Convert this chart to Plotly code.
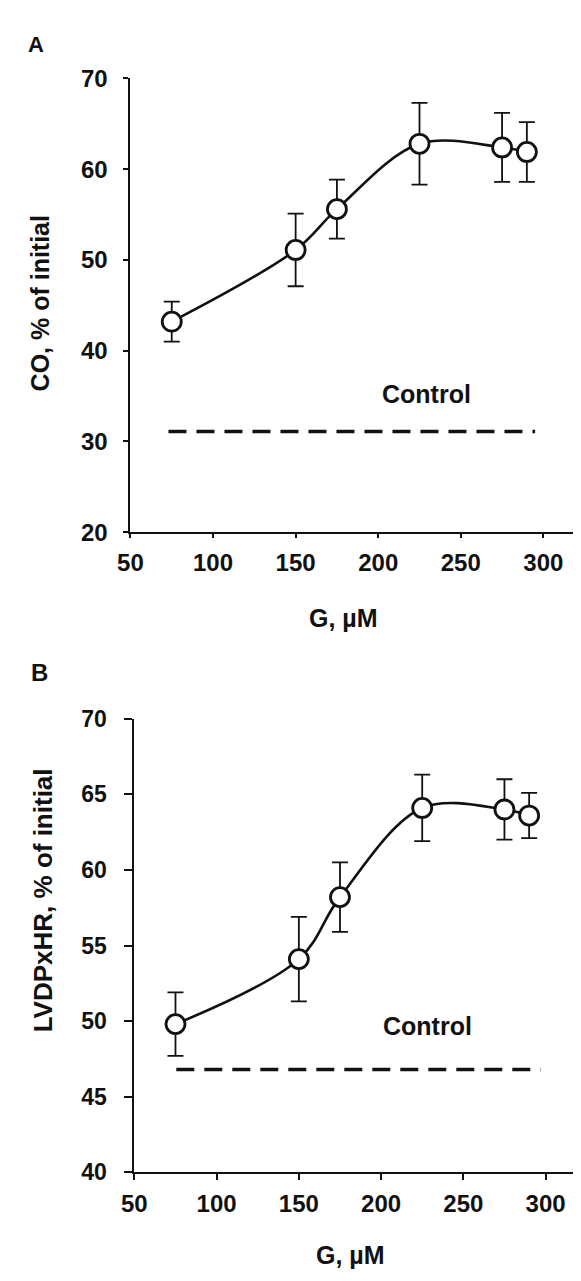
import plotly.graph_objects as go

# page body keeps its default 8px margin, so the figure is sized to fit inside it
OFF = 8
W, H = 581 - OFF, 1281 - 2 * OFF

# ---------------- data ----------------
g_um = [75, 150, 175, 225, 275, 290]

co_mean = [43.2, 51.1, 55.6, 62.8, 62.4, 61.9]
co_err = [2.2, 4.0, 3.25, 4.5, 3.8, 3.3]
co_control = 31.1
co_control_x = [73, 295]

lv_mean = [49.8, 54.1, 58.2, 64.1, 64.0, 63.6]
lv_err = [2.1, 2.8, 2.3, 2.2, 2.0, 1.5]
lv_control = 46.8
lv_control_x = [75.5, 297]

x_ticks = [50, 100, 150, 200, 250, 300]
yA_ticks = [20, 30, 40, 50, 60, 70]
yB_ticks = [40, 45, 50, 55, 60, 65, 70]

# ---------------- style ----------------
FONT = "Liberation Sans, Arial, sans-serif"
INK = "#111111"

def px_x(p):
    return (p - OFF) / W

def px_y(p):
    return 1 - (p - OFF) / H

fig = go.Figure()

def add_panel(xa, ya, mean, err, ctrl, ctrl_x):
    fig.add_trace(go.Scatter(
        x=g_um, y=mean, mode="lines", xaxis=xa, yaxis=ya,
        line=dict(color=INK, width=2.6, shape="spline", smoothing=1.0),
        error_y=dict(type="data", array=err, visible=True, color=INK,
                     thickness=1.8, width=8),
        showlegend=False, hoverinfo="skip"))
    fig.add_trace(go.Scatter(
        x=ctrl_x, y=[ctrl, ctrl], mode="lines", xaxis=xa, yaxis=ya,
        line=dict(color=INK, width=3.4, dash="18px,10px"),
        showlegend=False, hoverinfo="skip"))
    fig.add_trace(go.Scatter(
        x=g_um, y=mean, mode="markers", xaxis=xa, yaxis=ya,
        marker=dict(size=19, color="white", line=dict(color=INK, width=2.8)),
        showlegend=False))

add_panel("x", "y", co_mean, co_err, co_control, co_control_x)
add_panel("x2", "y2", lv_mean, lv_err, lv_control, lv_control_x)

axis_common = dict(showline=True, linecolor=INK, linewidth=2, ticks="outside",
                   tickwidth=2, tickcolor=INK, showgrid=False, zeroline=False)
fontA = dict(family=FONT, size=24, color=INK, weight="bold")
fontB = dict(family=FONT, size=23, color=INK, weight="bold")

fig.update_layout(
    width=W, height=H, margin=dict(l=0, r=0, t=0, b=0),
    paper_bgcolor="white", plot_bgcolor="white",
    xaxis=dict(domain=[px_x(120), 1.0], range=[50, 50 + (581 - 120) / 1.69],
               tickvals=x_ticks, anchor="y", ticklen=4, ticklabelstandoff=4,
               tickfont=fontA, **axis_common),
    yaxis=dict(domain=[px_y(529.3), px_y(65.7)], range=[20, 70], tickvals=yA_ticks,
               anchor="x", ticklen=5, ticklabelstandoff=11, tickfont=fontA,
               **axis_common),
    xaxis2=dict(domain=[px_x(124), 1.0], range=[50, 50 + (581 - 124) / 1.683],
                tickvals=x_ticks, anchor="y2", ticklen=6, ticklabelstandoff=3,
                tickfont=fontA, **axis_common),
    yaxis2=dict(domain=[px_y(1183.3), px_y(720)], range=[40, 70], tickvals=yB_ticks,
                anchor="x2", ticklen=8, ticklabelstandoff=13, tickfont=fontB,
                **axis_common),
)

annos = [
    dict(text="A", x=px_x(23.5), y=px_y(30.5), font=dict(family=FONT, size=22, color=INK, weight="bold")),
    dict(text="B", x=px_x(27), y=px_y(673), font=dict(family=FONT, size=24, color=INK, weight="bold")),
    dict(text="CO, % of initial", x=px_x(27), y=px_y(296), textangle=-90,
         font=dict(family=FONT, size=25, color=INK, weight="bold")),
    dict(text="LVDPxHR, % of initial", x=px_x(30), y=px_y(906), textangle=-90,
         font=dict(family=FONT, size=26, color=INK, weight="bold")),
    dict(text="G, µM", x=px_x(338), y=px_y(617), font=dict(family=FONT, size=25, color=INK, weight="bold")),
    dict(text="G, µM", x=px_x(345), y=px_y(1268), font=dict(family=FONT, size=25, color=INK, weight="bold")),
]
for a in annos:
    fig.add_annotation(xref="paper", yref="paper", showarrow=False,
                       xanchor="center", yanchor="middle", **a)

ctrl_font = dict(family=FONT, size=25, color=INK, weight="bold")
fig.add_annotation(x=229, y=35.2, xref="x", yref="y", text="Control", showarrow=False,
                   font=ctrl_font)
fig.add_annotation(x=228.3, y=49.66, xref="x2", yref="y2", text="Control", showarrow=False,
                   font=ctrl_font)

fig.write_html("out.html")
